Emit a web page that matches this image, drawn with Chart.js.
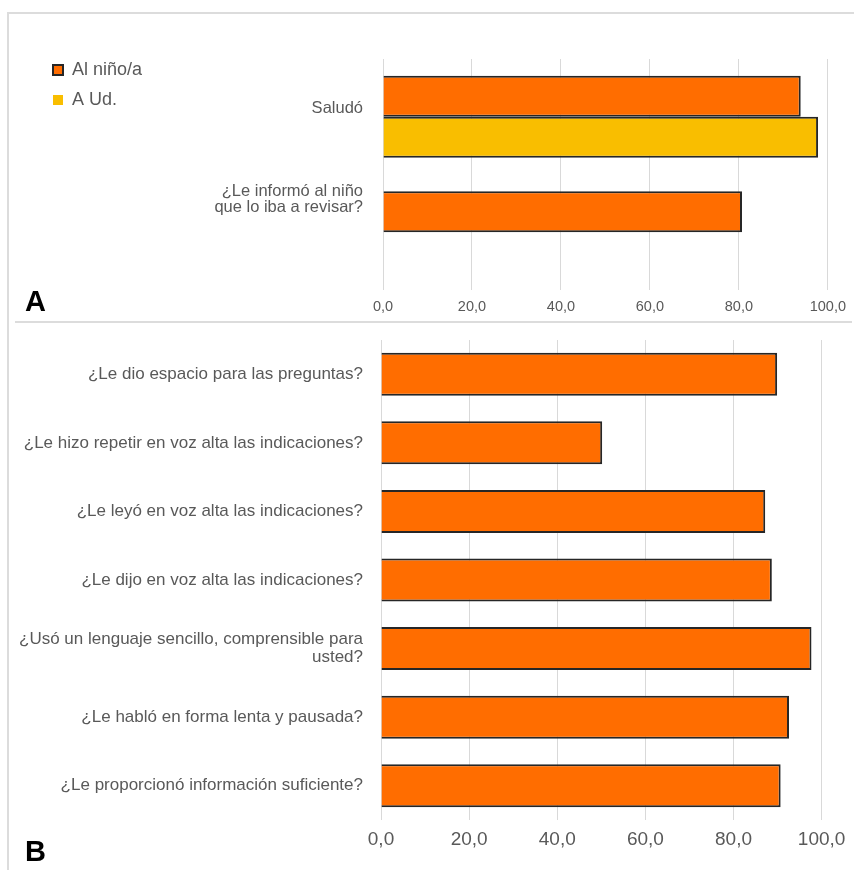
<!DOCTYPE html>
<html>
<head>
<meta charset="utf-8">
<script src="https://cdn.jsdelivr.net/npm/chart.js@4.4.1/dist/chart.umd.min.js"></script>
<style>
  body { margin: 0; background: #fff; }
  #wrap { position: relative; width: 854px; height: 870px; overflow: hidden; }
  canvas { position: absolute; left: 0; }
  .rule { position: absolute; background: #dcdcdc; }
  .tag { position: absolute; left: 25px; font: bold 29px "Liberation Sans", Arial, sans-serif; line-height: 29px; color: #000; }
</style>
</head>
<body>
<div id="wrap">
  <div class="rule" style="left:7px;top:12px;width:847px;height:2px"></div>
  <div class="rule" style="left:7px;top:12px;width:2px;height:858px"></div>
  <div class="rule" style="left:15px;top:321px;width:837px;height:2px"></div>
  <canvas id="chartA" width="854" height="322" style="top:0"></canvas>
  <canvas id="chartB" width="854" height="548" style="top:322px"></canvas>
  <div class="tag" style="top:287px">A</div>
  <div class="tag" style="top:837px">B</div>
</div>
<script>
// Panel A: greeting / informing
var labelsA = [['Saludó', ''], ['¿Le informó al niño', 'que lo iba a revisar?', '', '', '', '']];
var ninoA = [93.9, 80.7];
var udA = [97.8, null];

// Panel B: communication items
var labelsB = [
  '¿Le dio espacio para las preguntas?',
  '¿Le hizo repetir en voz alta las indicaciones?',
  '¿Le leyó en voz alta las indicaciones?',
  '¿Le dijo en voz alta las indicaciones?',
  ['¿Usó un lenguaje sencillo, comprensible para', 'usted?'],
  '¿Le habló en forma lenta y pausada?',
  '¿Le proporcionó información suficiente?'
];
var valuesB = [89.9, 50.2, 87.2, 88.7, 97.7, 92.6, 90.7];

var ticksX = ['0,0', '20,0', '40,0', '60,0', '80,0', '100,0'];

Chart.defaults.font.family = "'Liberation Sans', Arial, sans-serif";
Chart.defaults.color = '#595959';

var ORANGE = '#FF6D00';
var YELLOW = '#F9BE00';
var EDGE = '#262626';
var GRID = '#D9D9D9';

// moves the legend to a fixed spot in the left margin
var legendSpot = {
  id: 'legendSpot',
  afterLayout: function(chart, args, opts) {
    var lg = chart.legend;
    if (!lg || opts.x == null) return;
    var w = lg.width, h = lg.height;
    lg.left = opts.x; lg.top = opts.y;
    lg.right = opts.x + w; lg.bottom = opts.y + h;
  }
};

function xAxis(fontSize, pad, height) {
  return {
    min: 0,
    max: 100,
    ticks: {
      stepSize: 20,
      font: { size: fontSize },
      padding: pad,
      callback: function(v, i) { return ticksX[i]; }
    },
    grid: { color: GRID, drawTicks: false },
    border: { display: false },
    afterFit: function(scale) { scale.height = height; }
  };
}

function yAxis(width, fontSize, lineHeight, pad) {
  return {
    ticks: { font: { size: fontSize, lineHeight: lineHeight }, padding: pad, autoSkip: false },
    grid: { display: false, drawTicks: false },
    border: { display: false },
    afterFit: function(scale) {
      scale.width = width;
      scale.paddingTop = 0;
      scale.paddingBottom = 0;
    }
  };
}

new Chart(document.getElementById('chartA'), {
  type: 'bar',
  data: {
    labels: labelsA,
    datasets: [
      { label: 'Al niño/a', data: ninoA, backgroundColor: ORANGE, borderColor: EDGE, borderWidth: 2 },
      { label: 'A Ud.', data: udA, backgroundColor: YELLOW, borderColor: EDGE, borderWidth: 2 }
    ]
  },
  options: {
    indexAxis: 'y',
    responsive: false,
    animation: false,
    layout: { padding: { left: 0, top: 59, right: 26, bottom: 0 } },
    datasets: { bar: { categoryPercentage: 0.71, barPercentage: 1 } },
    scales: {
      x: xAxis(14.5, 8, 32),
      y: yAxis(383, 16.5, '16.5px', 20)
    },
    plugins: {
      legend: {
        position: 'chartArea',
        fullSize: false,
        align: 'start',
        labels: {
          boxWidth: 10,
          boxHeight: 10,
          padding: 12,
          font: { size: 18 },
          color: '#595959',
          generateLabels: function(chart) {
            var items = Chart.defaults.plugins.legend.labels.generateLabels(chart);
            items[1].lineWidth = 0;
            return items;
          }
        }
      },
      legendSpot: { x: 41, y: 49 },
      tooltip: { enabled: false }
    }
  },
  plugins: [legendSpot]
});

new Chart(document.getElementById('chartB'), {
  type: 'bar',
  data: {
    labels: labelsB,
    datasets: [
      { label: 'Al niño/a', data: valuesB, backgroundColor: ORANGE, borderColor: EDGE, borderWidth: 2 }
    ]
  },
  options: {
    indexAxis: 'y',
    responsive: false,
    animation: false,
    layout: { padding: { left: 0, top: 18, right: 32, bottom: 0 } },
    datasets: { bar: { categoryPercentage: 0.627, barPercentage: 1 } },
    scales: {
      x: xAxis(19, 8.6, 50),
      y: yAxis(381, 17, '18px', 18)
    },
    plugins: {
      legend: { display: false },
      tooltip: { enabled: false }
    }
  }
});
</script>
</body>
</html>
